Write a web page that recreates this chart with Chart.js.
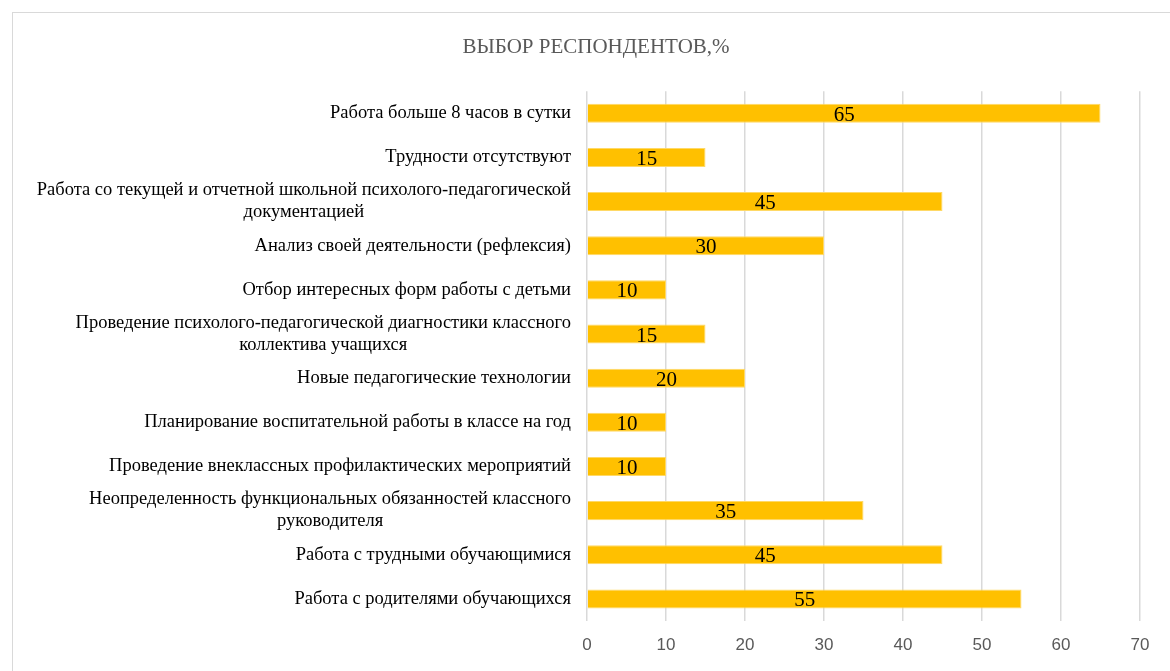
<!DOCTYPE html>
<html lang="ru">
<head>
  <meta charset="UTF-8">
  <title>Выбор респондентов</title>
  <style>
    html, body { margin: 0; padding: 0; background: #fff; }
    #wrap { width: 1170px; height: 671px; position: relative; }
  </style>
</head>
<body>
  <div id="wrap">
    <canvas id="grafico" width="1170" height="671"></canvas>
  </div>

  <script src="https://cdn.jsdelivr.net/npm/chart.js"></script>

  <script>
    const categorias = [
      "Работа больше 8 часов в сутки",
      "Трудности отсутствуют",
      ["Работа со текущей и отчетной школьной психолого-педагогической", "документацией"],
      "Анализ своей деятельности (рефлексия)",
      "Отбор интересных форм работы с детьми",
      ["Проведение психолого-педагогической диагностики классного", "коллектива учащихся"],
      "Новые педагогические технологии",
      "Планирование воспитательной работы в классе на год",
      "Проведение внеклассных профилактических мероприятий",
      ["Неопределенность функциональных обязанностей классного", "руководителя"],
      "Работа с трудными обучающимися",
      "Работа с родителями обучающихся"
    ];
    const valores = [65, 15, 45, 30, 10, 15, 20, 10, 10, 35, 45, 55];
    const ticksX = [0, 10, 20, 30, 40, 50, 60, 70];

    const serif = "'Liberation Serif', 'Times New Roman', serif";

    // рамка вокруг диаграммы
    const marco = {
      id: "marco",
      beforeDraw(chart) {
        const ctx = chart.ctx;
        ctx.save();
        ctx.strokeStyle = "#d9d9d9";
        ctx.lineWidth = 1;
        ctx.strokeRect(12.5, 12.5, 1300, 800);
        ctx.restore();
      }
    };

    // подписи категорий (многострочные по центру) и значения на столбцах
    const textos = {
      id: "textos",
      afterDraw(chart) {
        const ctx = chart.ctx;
        const y = chart.scales.y;
        const derecha = chart.chartArea.left - 16;
        ctx.save();
        ctx.font = "18.5px " + serif;
        ctx.fillStyle = "#000";
        ctx.textBaseline = "middle";
        categorias.forEach((lab, i) => {
          const lineas = Array.isArray(lab) ? lab : [lab];
          const ancho = Math.max(...lineas.map(l => ctx.measureText(l).width));
          const cx = derecha - ancho / 2;
          const yc = y.getPixelForValue(i);
          const alto = 22;
          lineas.forEach((l, j) => {
            ctx.textAlign = "center";
            ctx.fillText(l, cx, yc + (j - (lineas.length - 1) / 2) * alto);
          });
        });

        const meta = chart.getDatasetMeta(0);
        ctx.font = "21px " + serif;
        ctx.textAlign = "center";
        meta.data.forEach((bar, i) => {
          const p = bar.getProps(["x", "y", "base"], true);
          ctx.fillText(valores[i], (p.x + p.base) / 2, p.y + 2);
        });
        ctx.restore();
      }
    };

    document.addEventListener("DOMContentLoaded", () => {
      const lienzo = document.getElementById("grafico");
      new Chart(lienzo, {
        type: "bar",
        data: {
          labels: categorias,
          datasets: [{
            data: valores,
            backgroundColor: "#FFC000",
            borderColor: "#FFD966",
            borderWidth: 1,
            barPercentage: 0.8,
            categoryPercentage: 0.54
          }]
        },
        options: {
          indexAxis: "y",
          responsive: false,
          animation: false,
          layout: { padding: { left: 52, right: 30, top: 0, bottom: 3 } },
          plugins: {
            legend: { display: false },
            tooltip: { enabled: false },
            title: {
              display: true,
              text: "ВЫБОР РЕСПОНДЕНТОВ,%",
              color: "#595959",
              font: { family: serif, size: 21, weight: "normal" },
              padding: { top: 35, bottom: 31 }
            }
          },
          scales: {
            x: {
              min: 0,
              max: 70,
              afterBuildTicks(scale) {
                scale.ticks = ticksX.map(v => ({ value: v }));
              },
              afterFit(scale) { scale.height = 47; },
              grid: { color: "#d9d9d9", lineWidth: 1.5, drawTicks: false },
              border: { display: false },
              ticks: {
                color: "#595959",
                padding: 14,
                font: { family: "'Liberation Sans', Arial, sans-serif", size: 17 }
              }
            },
            y: {
              afterFit(scale) { scale.width = 535; },
              grid: { display: false, drawTicks: false },
              border: { display: false },
              ticks: { color: "rgba(0,0,0,0)", font: { family: serif, size: 16 } }
            }
          }
        },
        plugins: [marco, textos]
      });
    });
  </script>
</body>
</html>
